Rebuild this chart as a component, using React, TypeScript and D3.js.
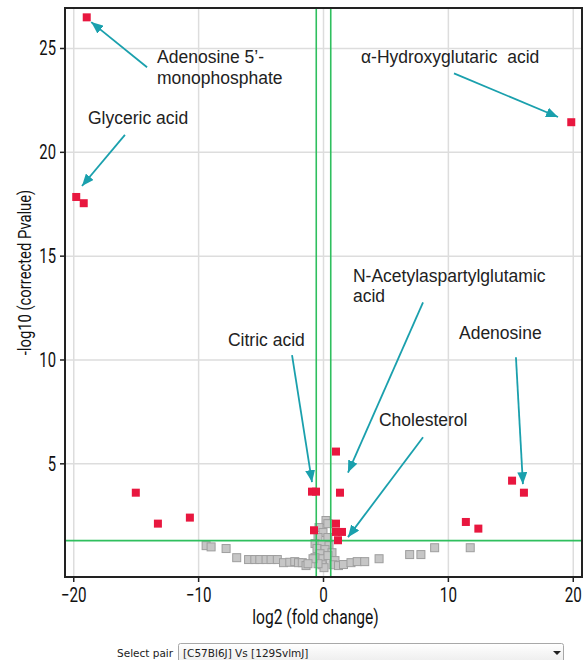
import { useEffect, useRef } from 'react'
import * as d3 from 'd3'

// significant metabolites (red)
const sigX = [-18.96, -19.8, -19.2, 19.84, -15.03, -13.26, -10.7, 1.0, -0.92, -0.6, 1.32, 15.1, 16.05, 1.0, -0.76, 1.0, 1.48, 1.16, 11.4, 12.4]
const sigY = [26.5, 17.85, 17.55, 21.45, 3.61, 2.12, 2.41, 5.59, 3.66, 3.66, 3.61, 4.19, 3.61, 2.12, 1.8, 1.72, 1.72, 1.32, 2.2, 1.88]

// non significant metabolites (grey)
const nsX = [-9.4, -9.0, -7.8, -6.95, -6.0, -5.5, -5.1, -4.6, -4.2, -3.7, -3.2, -2.7, -2.3, -2.0, -1.7, -1.4,
  0.2, 0.35, -0.36, -0.04, -0.44, 0.35, -0.68, -0.12, 0.44, -0.52, 0.12, -0.28, 0.68, -0.68, -0.04, 0.36, -0.12, 0.04, 0.92, 0.76, -0.44, -0.84, -1.24,
  1.2, 1.6, 2.2, 2.7, 3.3, 4.45, 6.9, 7.8, 8.9, 11.75]
const nsY = [1.06, 1.0, 0.92, 0.48, 0.39, 0.39, 0.39, 0.39, 0.39, 0.39, 0.24, 0.26, 0.29, 0.24, 0.24, 0.1,
  2.27, 2.12, 1.93, 1.69, 1.45, 1.45, 1.16, 1.11, 1.06, 0.92, 0.87, 0.67, 0.72, 0.48, 0.43, 0.58, 0.14, 0.0, 0.34, 0.14, 0.19, 0.43, 0.19,
  0.1, 0.15, 0.24, 0.29, 0.29, 0.43, 0.63, 0.63, 0.96, 0.96]

const xTicks = [-20, -10, 0, 10, 20]
const yTicks = [5, 10, 15, 20, 25]

const pThreshold = 1.3
const fcThreshold = 0.58

// annotations: label lines, text anchor, arrow start, arrow tip (data units)
const annLabels = [['Adenosine 5’-', 'monophosphate'], ['Glyceric acid'], ['α-Hydroxyglutaric  acid'], ['N-Acetylaspartylglutamic', 'acid'], ['Citric acid'], ['Adenosine'], ['Cholesterol']]
const annText = [[-13.33, 24.3], [-18.86, 21.37], [3.0, 24.3], [2.36, 13.76], [-7.65, 10.67], [10.85, 11.0], [4.44, 6.8]]
const annFrom = [[-14.13, 24.1], [-15.9, 20.84], [10.45, 23.8], [7.97, 12.77], [-2.52, 10.23], [15.41, 10.13], [7.97, 6.28]]
const annTo = [[-18.6, 26.27], [-19.34, 18.38], [18.78, 21.7], [1.96, 4.58], [-0.92, 4.12], [15.97, 4.02], [1.96, 1.47]]

export default function App() {
  const svgRef = useRef<SVGSVGElement | null>(null)
  const width = 587
  const height = 660

  useEffect(() => {
    if (!svgRef.current) return
    const svg = d3.select(svgRef.current)
    svg.selectAll('*').remove()

    const margin = { top: 8, right: 5, bottom: 83, left: 65 }
    const x = d3.scaleLinear().domain([-20.7, 20.7]).range([margin.left, width - margin.right])
    const y = d3.scaleLinear().domain([-0.45, 26.95]).range([height - margin.bottom, margin.top])
    const [x0, x1] = x.range()
    const [y0, y1] = y.range()

    const condFont = 'Roboto, "Liberation Sans", sans-serif'
    const labelFont = '"Liberation Sans", Arial, sans-serif'

    const defs = svg.append('defs')
    defs.append('marker')
      .attr('id', 'arrowhead')
      .attr('markerUnits', 'userSpaceOnUse')
      .attr('viewBox', '0 0 12 10')
      .attr('refX', 12)
      .attr('refY', 5)
      .attr('markerWidth', 12)
      .attr('markerHeight', 10)
      .attr('orient', 'auto')
      .append('path')
      .attr('d', 'M0,0 L12,5 L0,10 Z')
      .attr('fill', '#1aa0ad')

    // grid
    const grid = svg.append('g').attr('stroke', '#dddddd').attr('stroke-width', 1.5)
    grid.selectAll('.gx').data(xTicks).join('line')
      .attr('x1', d => x(d)).attr('x2', d => x(d)).attr('y1', y1).attr('y2', y0)
    grid.selectAll('.gy').data(yTicks).join('line')
      .attr('y1', d => y(d)).attr('y2', d => y(d)).attr('x1', x0).attr('x2', x1)

    // grey points
    svg.append('g').selectAll('rect').data(nsX.map((d, i) => [d, nsY[i]])).join('rect')
      .attr('x', d => x(d[0]) - 4).attr('y', d => y(d[1]) - 4)
      .attr('width', 8).attr('height', 8)
      .attr('fill', '#c6c6c6').attr('stroke', '#9e9e9e').attr('stroke-width', 1)

    // thresholds
    const thr = svg.append('g').attr('stroke', '#2fbf5e').attr('stroke-width', 1.6)
    thr.append('line').attr('x1', x0).attr('x2', x1).attr('y1', y(pThreshold)).attr('y2', y(pThreshold))
    thr.selectAll('.v').data([-fcThreshold, fcThreshold]).join('line')
      .attr('x1', d => x(d)).attr('x2', d => x(d)).attr('y1', y1).attr('y2', y0)

    // red points
    svg.append('g').selectAll('rect').data(sigX.map((d, i) => [d, sigY[i]])).join('rect')
      .attr('x', d => x(d[0]) - 4).attr('y', d => y(d[1]) - 4)
      .attr('width', 8).attr('height', 8)
      .attr('fill', '#e8173f')

    // frame
    svg.append('rect')
      .attr('x', x0).attr('y', y1).attr('width', x1 - x0).attr('height', y0 - y1)
      .attr('fill', 'none').attr('stroke', '#222').attr('stroke-width', 2)

    // ticks
    const ax = svg.append('g').attr('stroke', '#222').attr('stroke-width', 1.5)
    ax.selectAll('.tx').data(xTicks).join('line')
      .attr('x1', d => x(d)).attr('x2', d => x(d)).attr('y1', y0).attr('y2', y0 + 5)
    ax.selectAll('.ty').data(yTicks).join('line')
      .attr('y1', d => y(d)).attr('y2', d => y(d)).attr('x1', x0 - 5).attr('x2', x0)

    const fmt = (d: number) => (d < 0 ? '\u2212' + Math.abs(d) : String(d))
    svg.append('g').selectAll('text').data(xTicks).join('text')
      .attr('transform', d => `translate(${x(d)},${y0 + 25}) scale(0.76,1)`)
      .attr('text-anchor', 'middle')
      .attr('font-family', condFont).attr('font-size', 20).attr('fill', '#111')
      .text(fmt)
    svg.append('g').selectAll('text').data(yTicks).join('text')
      .attr('transform', d => `translate(${x0 - 9},${y(d) + 7}) scale(0.74,1)`)
      .attr('text-anchor', 'end')
      .attr('font-family', condFont).attr('font-size', 20).attr('fill', '#111')
      .text(fmt)

    svg.append('text')
      .attr('transform', `translate(${(x0 + x1) / 2 - 8},${y0 + 47}) scale(0.8,1)`)
      .attr('text-anchor', 'middle')
      .attr('font-family', condFont).attr('font-size', 19.5).attr('fill', '#111')
      .text('log2 (fold change)')
    svg.append('text')
      .attr('transform', `translate(31,${(y0 + y1) / 2 - 20}) rotate(-90) scale(0.78,1)`)
      .attr('text-anchor', 'middle')
      .attr('font-family', condFont).attr('font-size', 19).attr('fill', '#111')
      .text('-log10 (corrected Pvalue)')

    // annotations
    const ann = svg.append('g')
    annLabels.forEach((lines, i) => {
      ann.append('line')
        .attr('x1', x(annFrom[i][0])).attr('y1', y(annFrom[i][1]))
        .attr('x2', x(annTo[i][0])).attr('y2', y(annTo[i][1]))
        .attr('stroke', '#1aa0ad').attr('stroke-width', 1.8)
        .attr('marker-end', 'url(#arrowhead)')
      const t = ann.append('text')
        .attr('x', x(annText[i][0])).attr('y', y(annText[i][1]))
        .attr('font-family', labelFont).attr('font-size', 17.5).attr('fill', '#222')
        .style('white-space', 'pre')
      lines.forEach((l, j) => {
        t.append('tspan').attr('x', x(annText[i][0])).attr('dy', j === 0 ? 0 : 20.5).text(l)
      })
    })

    // select pair control
    const ctl = svg.append('g')
    ctl.append('text').attr('x', 117).attr('y', 657)
      .attr('font-family', '"DejaVu Sans", sans-serif').attr('font-size', 10.5).attr('fill', '#222')
      .text('Select pair')
    const grad = defs.append('linearGradient').attr('id', 'ctlgrad').attr('x1', 0).attr('x2', 0).attr('y1', 0).attr('y2', 1)
    grad.append('stop').attr('offset', '0%').attr('stop-color', '#ffffff')
    grad.append('stop').attr('offset', '100%').attr('stop-color', '#e6e6e6')
    ctl.append('rect').attr('x', 178.5).attr('y', 643.5).attr('width', 385).attr('height', 26)
      .attr('rx', 2).attr('fill', 'url(#ctlgrad)').attr('stroke', '#a8a8a8')
    ctl.append('text').attr('x', 183).attr('y', 657)
      .attr('font-family', '"DejaVu Sans", sans-serif').attr('font-size', 10.5).attr('fill', '#222')
      .text('[C57Bl6J] Vs [129SvlmJ]')
    ctl.append('path').attr('d', 'M553,651 L561,651 L557,655 Z').attr('fill', '#222')
  }, [])

  return (
    <svg ref={svgRef} width={width} height={height}
      style={{ position: 'absolute', left: 0, top: 0, background: '#fff' }} />
  )
}
